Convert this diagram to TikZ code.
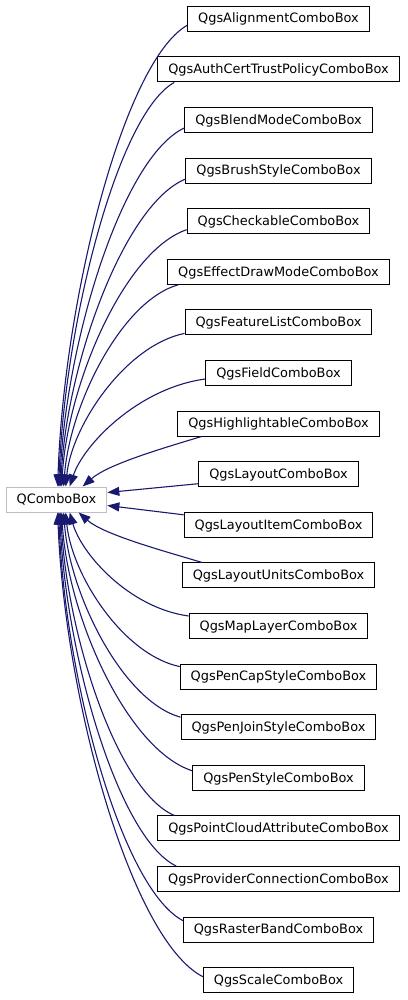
\documentclass[tikz,border=0pt]{standalone}
\usepackage{fontspec}
\setmainfont{DejaVu Sans}
\usetikzlibrary{arrows.meta}
\definecolor{edgeblue}{HTML}{191970}
\definecolor{basegray}{HTML}{BFBFBF}
\definecolor{boxline}{HTML}{000000}
\tikzset{
  cls/.style={draw=boxline, line width=1pt, fill=white, minimum height=25pt, inner ysep=0pt, inner xsep=10.5pt,
    text height=10.5pt, text depth=2.1pt, font=\fontsize{12.9}{15}\selectfont},
  basecls/.style={cls, draw=basegray},
  inh/.style={draw=edgeblue, line width=1.1pt, -{Triangle[length=12pt,width=9pt]}},
}
\begin{document}
\begin{tikzpicture}[x=1pt,y=-1pt]
\useasboundingbox (0,0) rectangle (407,1000);
\node[basecls] (qb) at (56.5,499.5) {QComboBox};
\node[cls] (c0) at (278.5,18.8) {QgsAlignmentComboBox};
\node[cls] (c1) at (278.5,69.4) {QgsAuthCertTrustPolicyComboBox};
\node[cls] (c2) at (278.5,120.0) {QgsBlendModeComboBox};
\node[cls] (c3) at (278.5,170.6) {QgsBrushStyleComboBox};
\node[cls] (c4) at (278.5,221.2) {QgsCheckableComboBox};
\node[cls] (c5) at (278.5,271.8) {QgsEffectDrawModeComboBox};
\node[cls] (c6) at (278.5,322.4) {QgsFeatureListComboBox};
\node[cls] (c7) at (278.5,373.0) {QgsFieldComboBox};
\node[cls] (c8) at (278.5,423.6) {QgsHighlightableComboBox};
\node[cls] (c9) at (278.5,474.2) {QgsLayoutComboBox};
\node[cls] (c10) at (278.5,524.8) {QgsLayoutItemComboBox};
\node[cls] (c11) at (278.5,575.4) {QgsLayoutUnitsComboBox};
\node[cls] (c12) at (278.5,626.0) {QgsMapLayerComboBox};
\node[cls] (c13) at (278.5,676.6) {QgsPenCapStyleComboBox};
\node[cls] (c14) at (278.5,727.2) {QgsPenJoinStyleComboBox};
\node[cls] (c15) at (278.5,777.8) {QgsPenStyleComboBox};
\node[cls] (c16) at (278.5,828.4) {QgsPointCloudAttributeComboBox};
\node[cls] (c17) at (278.5,879.0) {QgsProviderConnectionComboBox};
\node[cls] (c18) at (278.5,929.6) {QgsRasterBandComboBox};
\node[cls] (c19) at (278.5,980.2) {QgsScaleComboBox};

\draw[inh] ([yshift=-6.5pt]c0.west) .. controls +(-64,37) and +(6,-185) .. ([xshift=52pt]qb.north west);
\draw[inh] ([xshift=17pt]c1.south west) .. controls +(-57,32) and +(6,-162) .. ([xshift=53pt]qb.north west);
\draw[inh] ([yshift=-8pt]c2.west) .. controls +(-62,29) and +(6,-144) .. ([xshift=54pt]qb.north west);
\draw[inh] ([yshift=-8.5pt]c3.west) .. controls +(-61,25) and +(6,-123) .. ([xshift=55pt]qb.north west);
\draw[inh] ([yshift=-8.5pt]c4.west) .. controls +(-62,21) and +(6,-103) .. ([xshift=56pt]qb.north west);
\draw[inh] ([xshift=11pt]c5.south west) .. controls +(-57,16) and +(6,-81) .. ([xshift=58pt]qb.north west);
\draw[inh] ([yshift=-11pt]c6.west) .. controls +(-59,12) and +(6,-61) .. ([xshift=60pt]qb.north west);
\draw[inh] ([yshift=-6pt]c7.west) .. controls +(-67,9) and +(14,-42) .. ([xshift=64pt]qb.north west);
\draw[inh] ([xshift=24pt]c8.south west) .. controls +(-40,12) and +(25,-22) .. ([xshift=77pt]qb.north west);
\draw[inh] ([yshift=-9.5pt]c9.west) -- ([yshift=7pt]qb.east);
\draw[inh] ([yshift=10pt]c10.west) -- ([yshift=-6pt]qb.east);
\draw[inh] ([xshift=20pt]c11.north west) .. controls +(-40,-12) and +(25,22) .. ([xshift=73pt]qb.south west);
\draw[inh] ([yshift=10pt]c12.west) .. controls +(-59,-8) and +(12,42) .. ([xshift=64pt]qb.south west);
\draw[inh] ([yshift=10pt]c13.west) .. controls +(-57,-12) and +(6,62) .. ([xshift=60pt]qb.south west);
\draw[inh] ([yshift=10pt]c14.west) .. controls +(-58,-16) and +(6,82) .. ([xshift=58pt]qb.south west);
\draw[inh] ([yshift=7pt]c15.west) .. controls +(-65,-21) and +(6,104) .. ([xshift=56pt]qb.south west);
\draw[inh] ([xshift=17pt]c16.north west) .. controls +(-57,-24) and +(6,122) .. ([xshift=55pt]qb.south west);
\draw[inh] ([xshift=19pt]c17.north west) .. controls +(-58,-28) and +(6,142) .. ([xshift=54pt]qb.south west);
\draw[inh] ([yshift=9pt]c18.west) .. controls +(-62,-33) and +(6,164) .. ([xshift=53pt]qb.south west);
\draw[inh] ([yshift=3.5pt]c19.west) .. controls +(-72,-37) and +(7,186) .. ([xshift=52pt]qb.south west);
\end{tikzpicture}
\end{document}
